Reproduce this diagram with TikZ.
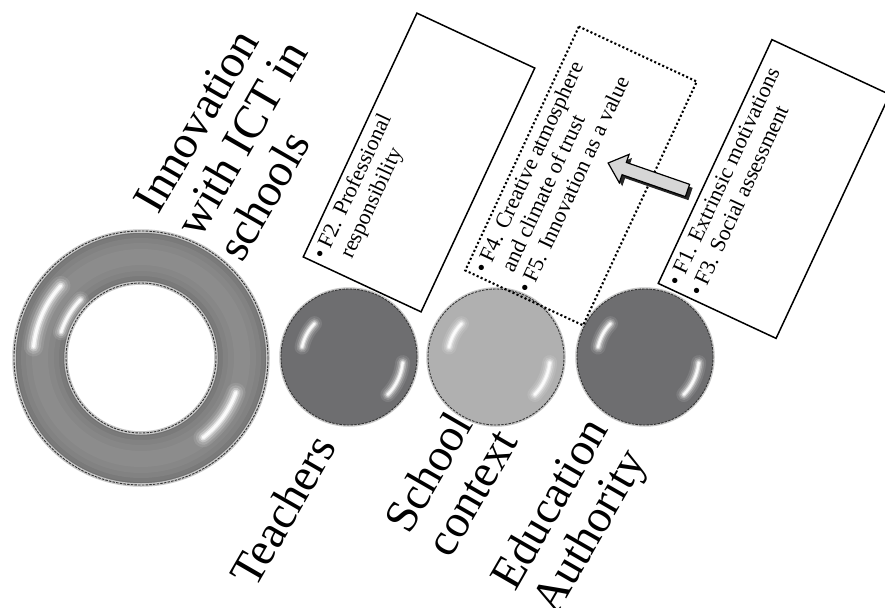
\documentclass[tikz,border=0pt]{standalone}
\usepackage{fontspec}
\setmainfont{Liberation Serif}
\usetikzlibrary{calc}
\definecolor{balldark}{HTML}{6E6E70}
\definecolor{balllight}{HTML}{B0B0B0}
\definecolor{arrowgray}{HTML}{D6D6D6}
\pgfdeclareradialshading{darkballshade}{\pgfpoint{0bp}{0bp}}{color(0bp)=(balldark); color(34bp)=(balldark); color(45bp)=(balldark!88!black); color(50bp)=(balldark!75!black)}
\pgfdeclareradialshading{lightballshade}{\pgfpoint{0bp}{0bp}}{color(0bp)=(balllight); color(34bp)=(balllight); color(45bp)=(balllight!90!black); color(50bp)=(balllight!78!black)}
\newcommand{\mkglint}[5]{%
  \foreach \gw/\go in {15/0.10,11/0.16,7.5/0.28,4.5/0.5,2.4/0.85}{%
    \draw[white, line cap=round, line width={#5*\gw pt}, opacity=\go] ($(#1)+(#3:#2)$) arc[start angle=#3, end angle=#4, radius=#2];}}
\tikzset{
  ball/.style={circle, minimum size=136pt, inner sep=0pt, shade, draw=black!80, line width=0.9pt, dash pattern=on 2.5pt off 1.2pt},
  halo/.style={black!22, line width=3.5pt},
  rim/.style={black!80, line width=0.9pt, dash pattern=on 2.5pt off 1.2pt},
  factbox/.style={draw, line width=1.5pt, rotate=65, minimum width=269pt, minimum height=130pt, inner sep=0pt},
  boxtext/.style={rotate=65, anchor=north west, inner xsep=6pt, inner ysep=5pt, font=\fontsize{22}{24}\selectfont},
  bigtext/.style={rotate=60, align=left, inner sep=0pt, font=\fontsize{46.5}{48}\selectfont, anchor=base west}
}
\begin{document}
\begin{tikzpicture}[x=1pt,y=-1pt]
\fill[white] (0,0) rectangle (885,607);
\useasboundingbox (0,0) rectangle (885,607);
% torus
\coordinate (tor) at (141,358);
\foreach \tw/\tk in {52/56,46/52,38/49,28/47,16/45}{\draw[black!\tk, line width=\tw pt] (tor) circle[radius=101pt];}
\draw[halo] (tor) circle[radius=127pt];
\draw[halo] (tor) circle[radius=75pt];
\draw[rim] (tor) circle[radius=127pt];
\draw[rim] (tor) circle[radius=75pt];
\mkglint{tor}{108pt}{138}{174}{1.3}
\mkglint{tor}{84pt}{136}{162}{1.1}
\mkglint{tor}{101pt}{-52}{-20}{1.3}
% balls
\coordinate (tc) at (349,357);
\coordinate (sc) at (496,357);
\coordinate (ec) at (645,357);
\draw[halo] (tc) circle[radius=68pt];
\draw[halo] (sc) circle[radius=68pt];
\draw[halo] (ec) circle[radius=68pt];
\node (teachers) [ball, shading=darkballshade] at (tc) {};
\node (school) [ball, shading=lightballshade] at (sc) {};
\node (edu) [ball, shading=darkballshade] at (ec) {};
\mkglint{tc}{48pt}{136}{168}{1}
\mkglint{tc}{54pt}{-44}{-6}{1}
\mkglint{sc}{48pt}{136}{168}{1}
\mkglint{sc}{54pt}{-44}{-6}{1}
\mkglint{ec}{48pt}{136}{168}{1}
\mkglint{ec}{54pt}{-44}{-6}{1}
% boxes
\node (f2box) [factbox] at (419,162.5) {};
\node (f45box) [factbox, line width=2.1pt, dash pattern=on 2.1pt off 2.3pt] at (581,176) {};
\node (f13box) [factbox] at (774,189) {};
\node (f2text) [boxtext] at (f2box.north west) {\begin{tabular}{@{}l@{\hspace{5pt}}l@{}}•&F2. Professional\\&responsibility\end{tabular}};
\node (f45text) [boxtext] at (f45box.north west) {\begin{tabular}{@{}l@{\hspace{5pt}}l@{}}•&F4. Creative atmosphere\\&and climate of trust\\•&F5. Innovation as a value\end{tabular}};
\node (f13text) [boxtext] at (f13box.north west) {\begin{tabular}{@{}l@{\hspace{5pt}}l@{}}•&F1. Extrinsic motivations\\•&F3. Social assessment\end{tabular}};
% arrow
\begin{scope}[shift={(690.5,194)}, rotate=160.9]
\fill[black!85] (0,-6.5) -- (67,-6.5) -- (67,-15) -- (84,0) -- (67,15) -- (67,6.5) -- (0,6.5) -- cycle;
\end{scope}
\begin{scope}[shift={(687.5,190.5)}, rotate=160.9]
\draw[line width=1.2pt, fill=arrowgray] (0,-6.5) -- (67,-6.5) -- (67,-15) -- (84,0) -- (67,15) -- (67,6.5) -- (0,6.5) -- cycle;
\end{scope}
% labels (anchor = baseline of the last line)
\node (title) [bigtext] at (242,264) {Innovation\\with ICT in\\schools};
\node (teacherslabel) [bigtext] at (255,590) {Teachers};
\node (schoollabel) [bigtext] at (450.6,560) {School\\context};
\node (edulabel) [bigtext] at (556.6,617) {Education\\Authority};
\end{tikzpicture}
\end{document}
